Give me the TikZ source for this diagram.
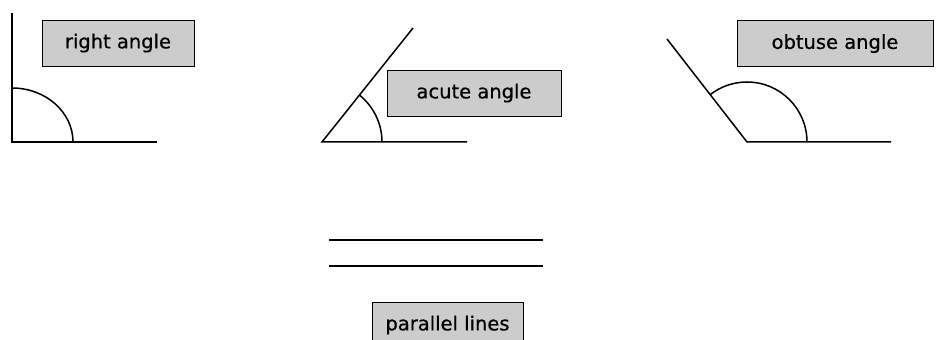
\documentclass[tikz,border=0pt]{standalone}
\usepackage{fontspec}
\setmainfont{DejaVu Sans}
\newfontfamily\boxfont{DejaVu Sans}[FakeBold=0.5]
\definecolor{boxgray}{HTML}{CCCCCC}
\tikzset{
	leg/.style={line width=1.5pt},
	label box/.style={draw, line width=0.8pt, fill=boxgray, minimum height=46pt, inner sep=0pt, font=\boxfont\fontsize{19.5}{22}\selectfont}
}
\begin{document}
\begin{tikzpicture}[x=1pt,y=1pt]
			\clip (0,0) rectangle (938,340);
			\useasboundingbox (0,0) rectangle (938,340);
			% right angle
			\draw[leg] (12,327) -- (12,198) -- (157,198);
			\draw[leg] (73,198) arc[start angle=0, end angle=90, x radius=61, y radius=54];
			\node[label box, minimum width=152pt] (right) at (118,297) {right angle};
			
			% acute angle
			\draw[leg] (467,198) -- (322,198) -- (413,312);
			\draw[leg] (382,198) arc[start angle=0, end angle=51.4, radius=60];
			\node[label box, minimum width=174pt] (acute) at (474,247) {acute angle};
			
			% obtuse angle
			\draw[leg] (891,198) -- (747,198) -- (667,301);
			\draw[leg] (807,198) arc[start angle=0, end angle=127.8, radius=60];
			\node[label box, minimum width=196pt] (obtuse) at (835,296.5) {obtuse angle};
			
			% parallel lines
			\draw[leg] (329,100) -- (543,100);
			\draw[leg] (329,74) -- (543,74);
			\node[label box, minimum width=151pt] (parallel) at (447.5,15) {parallel lines};
		\end{tikzpicture}
\end{document}
